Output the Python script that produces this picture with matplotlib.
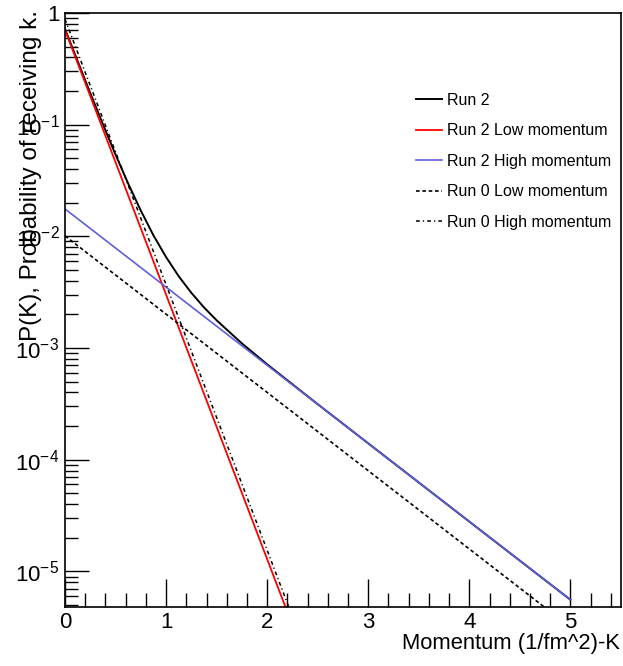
import math
import matplotlib
matplotlib.use("Agg")
import matplotlib.pyplot as plt
from matplotlib.ticker import FixedLocator, LogLocator, FuncFormatter, NullFormatter

plt.rcParams['font.family'] = ['Liberation Sans', 'DejaVu Sans']
plt.rcParams['mathtext.fontset'] = 'custom'
plt.rcParams['mathtext.rm'] = 'Liberation Sans'
plt.rcParams['mathtext.it'] = 'Liberation Sans'

# Run 2 (total)
run2_x = [0, 0.125, 0.25, 0.375, 0.5, 0.625, 0.75, 0.875, 1.0, 1.125, 1.25, 1.375, 1.5, 1.75, 2.0, 2.5, 3, 4, 5]
run2_y = [0.72, 0.371, 0.192, 0.101, 0.0539, 0.0297, 0.0170, 0.0102, 0.00652, 0.00439, 0.00312,
          0.00231, 0.00177, 0.00110, 0.000714, 0.000314, 0.000140, 2.79e-5, 5.57e-6]

# straight (exponential) components, end points
run2_low_x = [0, 2.4]
run2_low_y = [0.705, 1.45e-6]
run2_high_x = [0, 5]
run2_high_y = [0.0176, 5.57e-6]
run0_low_x = [0, 5]
run0_low_y = [0.0101, 3.16e-6]
run0_high_x = [0, 2.4]
run0_high_y = [0.88, 1.73e-6]

fig = plt.figure(figsize=(6.23, 6.66), dpi=100)
ax = fig.add_axes([65 / 623, 1 - 607 / 666, 556 / 623, 594 / 666])

ax.plot(run2_x, run2_y, color='black', lw=1.4, label='Run 2')
ax.plot(run2_low_x, run2_low_y, color='#ff0000', lw=1.3, label='Run 2 Low momentum')
ax.plot(run2_high_x, run2_high_y, color='#5f5fdc', lw=1.2, label='Run 2 High momentum')
ax.plot(run0_low_x, run0_low_y, color='black', lw=1.2, linestyle=(0, (2.2, 1.6)), label='Run 0 Low momentum')
ax.plot(run0_high_x, run0_high_y, color='black', lw=1.1, linestyle=(0, (2.5, 2, 0.8, 2)), label='Run 0 High momentum')

ax.set_yscale('log')
ax.set_xlim(0, 5.5)
ax.set_ylim(4.8e-6, 1.0)

ax.xaxis.set_major_locator(FixedLocator([0, 1, 2, 3, 4, 5]))
ax.xaxis.set_minor_locator(FixedLocator([i * 0.2 for i in range(28)]))
ax.yaxis.set_major_locator(LogLocator(base=10, numticks=10))
ax.yaxis.set_minor_locator(LogLocator(base=10, subs=[2, 3, 4, 5, 6, 7, 8, 9], numticks=20))
ax.yaxis.set_minor_formatter(NullFormatter())


def fmt(v, pos):
    if abs(v - 1) < 1e-9:
        return '1'
    return r'$10^{%d}$' % round(math.log10(v))


ax.yaxis.set_major_formatter(FuncFormatter(fmt))
ax.tick_params(which='both', direction='in', top=False, right=False, labelsize=16, width=1)
ax.tick_params(axis='x', which='major', length=20, pad=3.5)
ax.tick_params(axis='x', which='minor', length=10)
ax.tick_params(axis='y', which='major', length=17, pad=4)
ax.tick_params(axis='y', which='minor', length=9)
for s in ax.spines.values():
    s.set_linewidth(1.2)

fig.text(620 / 623, 1 - 643 / 666, 'Momentum (1/fm^2)-K', ha='right', va='center', fontsize=15.8)
fig.text(31 / 623, 1 - 10 / 666, 'P(K), Probability of receiving k.', ha='center', va='top',
         rotation=90, fontsize=17.5)

fig.legend(loc='upper left', bbox_to_anchor=(416 / 623, 1 - 93 / 666), frameon=False,
           fontsize=11.5, handlelength=1.6, handletextpad=0.35, labelspacing=0.97,
           borderpad=0, borderaxespad=0)

plt.savefig('out.png', dpi=100)
